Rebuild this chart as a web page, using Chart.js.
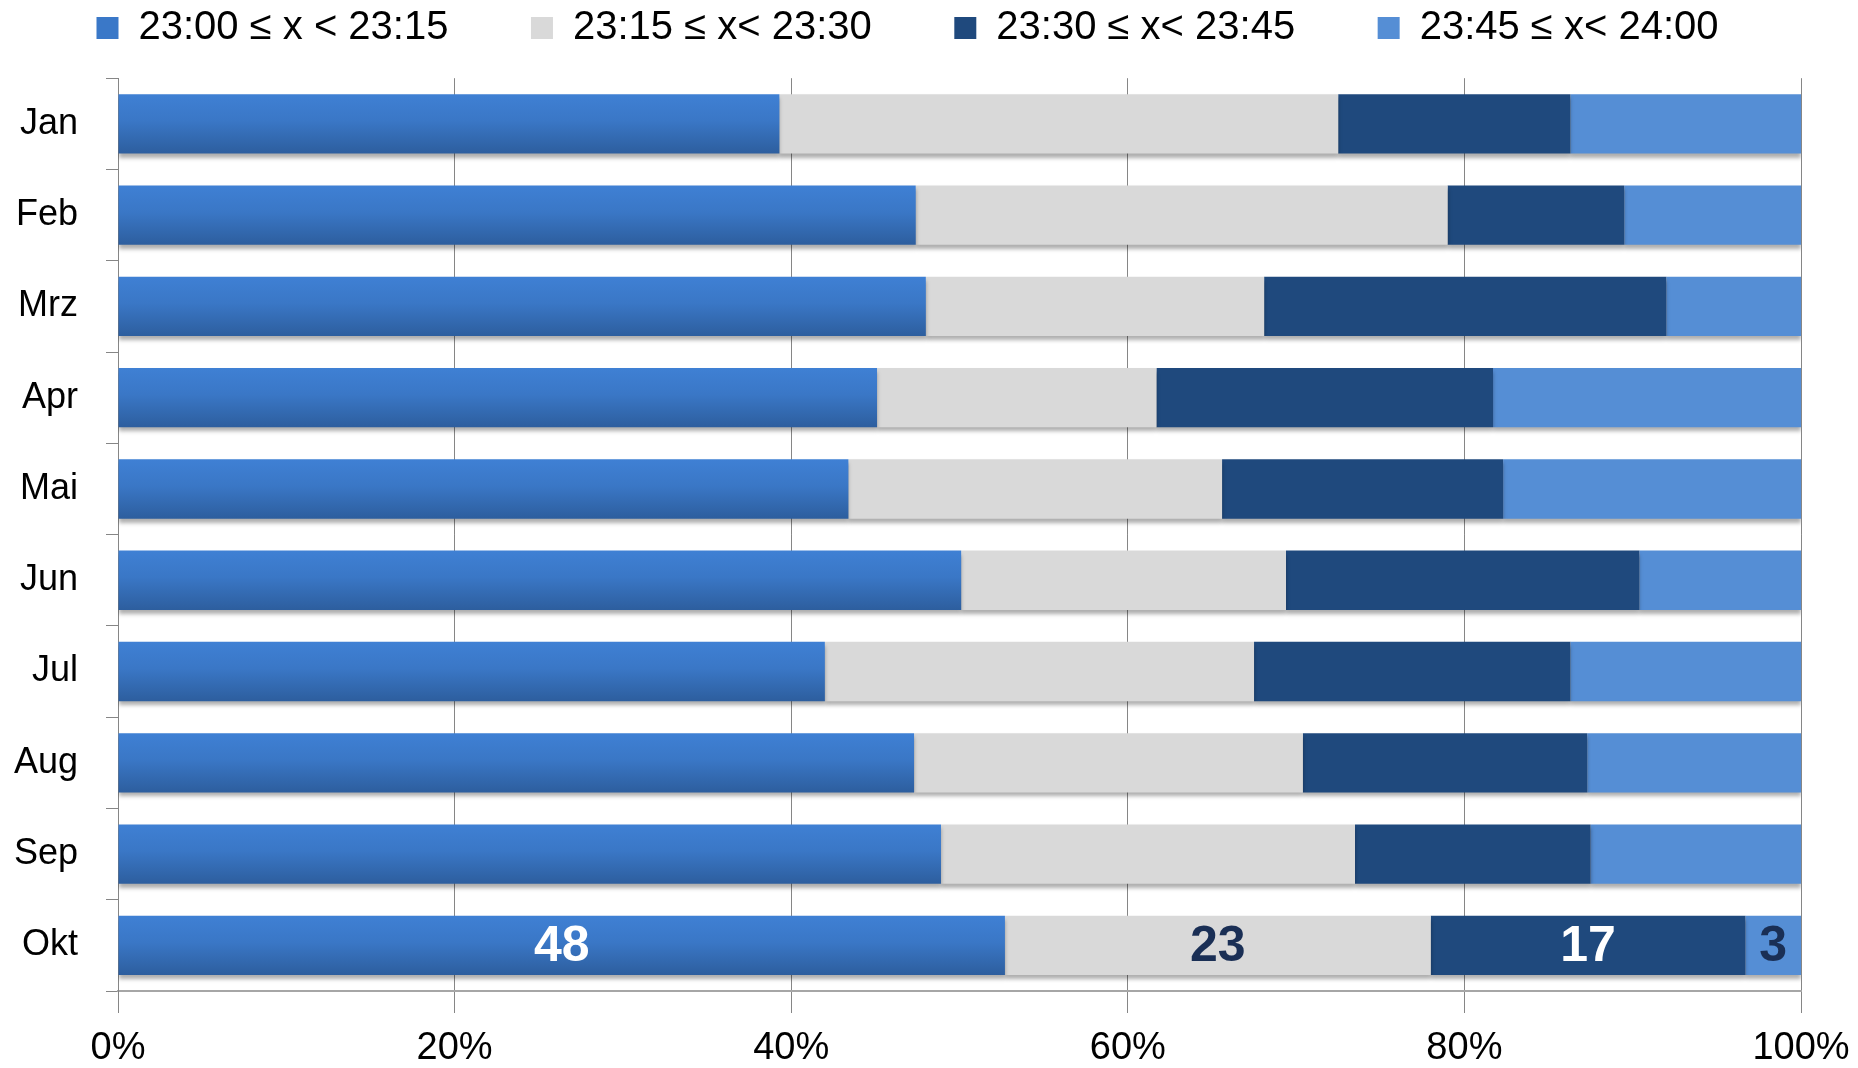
<!DOCTYPE html>
<html><head><meta charset="utf-8">
<script src="https://cdn.jsdelivr.net/npm/chart.js@4"></script>
<style>html,body{margin:0;padding:0;background:#fff;overflow:hidden}canvas{display:block}</style>
</head><body>
<canvas id="c" width="1858" height="1068" style="width:1858px;height:1068px"></canvas>
<script>
const categories = ['Jan','Feb','Mrz','Apr','Mai','Jun','Jul','Aug','Sep','Okt'];
const seriesNames = ['23:00 \u2264 x < 23:15','23:15 \u2264 x< 23:30','23:30 \u2264 x< 23:45','23:45 \u2264 x< 24:00'];
const s1 = [39.3,47.4,48.0,45.1,43.4,50.1,42.0,47.3,48.9,52.7];
const s2 = [33.2,31.6,20.1,16.6,22.2,19.3,25.5,23.1,24.6,25.3];
const s3 = [13.8,10.5,23.9,20.0,16.7,21.0,18.8,16.9,14.0,18.7];
const s4 = [13.7,10.5,8.0,18.3,17.7,9.6,13.7,12.7,12.5,3.3];
const oktCounts = [48,23,17,3];
const xTicks = [0,20,40,60,80,100];

const FONT = '"Liberation Sans", Arial, sans-serif';
const BAR_FRAC = 0.65;

function blueGrad(ctx){
  const chart = ctx.chart;
  const y = chart.scales && chart.scales.y;
  if(!chart.chartArea || !y || ctx.type !== 'data') return '#3a78c8';
  const c = y.getPixelForValue(ctx.dataIndex);
  const h = (y.height / categories.length) * BAR_FRAC;
  const g = chart.ctx.createLinearGradient(0, c - h/2, 0, c + h/2);
  g.addColorStop(0, '#3f80d4');
  g.addColorStop(0.45, '#3a77c6');
  g.addColorStop(1, '#2d5e9e');
  return g;
}

const shadowPlugin = {
  id: 'barShadow',
  beforeDatasetDraw(chart){
    const c = chart.ctx; c.save();
    c.shadowColor = 'rgba(0,0,0,0.32)'; c.shadowBlur = 4; c.shadowOffsetY = 4;
  },
  afterDatasetDraw(chart){ chart.ctx.restore(); }
};

const labelColors = ['#ffffff','#1a2f55','#ffffff','#1a2f55'];
const oktLabelPlugin = {
  id: 'oktLabels',
  afterDatasetsDraw(chart){
    const c = chart.ctx; const i = categories.length - 1;
    c.save();
    c.font = 'bold 50px ' + FONT;
    c.textAlign = 'center'; c.textBaseline = 'middle';
    chart.data.datasets.forEach((ds, d) => {
      const el = chart.getDatasetMeta(d).data[i];
      if(!el) return;
      c.fillStyle = labelColors[d];
      c.fillText(String(oktCounts[d]), (el.x + el.base) / 2, el.y + 2);
    });
    c.restore();
  }
};

new Chart(document.getElementById('c'), {
  type: 'bar',
  data: {
    labels: categories,
    datasets: [
      {label: seriesNames[0], data: s1, backgroundColor: blueGrad},
      {label: seriesNames[1], data: s2, backgroundColor: '#d9d9d9'},
      {label: seriesNames[2], data: s3, backgroundColor: '#1f497d'},
      {label: seriesNames[3], data: s4, backgroundColor: '#558ed5'}
    ]
  },
  options: {
    indexAxis: 'y',
    responsive: false,
    animation: false,
    devicePixelRatio: 1,
    datasets: {bar: {categoryPercentage: 1, barPercentage: BAR_FRAC, borderWidth: 0}},
    layout: {padding: {top: -74.5, right: 57, left: 0, bottom: 0}},
    plugins: {
      legend: {
        position: 'top',
        align: 'end',
        labels: {
          font: {family: FONT, size: 40},
          color: '#000',
          boxWidth: 22, boxHeight: 22,
          padding: 82.5,
          generateLabels(chart){
            const cols = ['#3a78c8','#d9d9d9','#1f497d','#558ed5'];
            return chart.data.datasets.map((ds, i) => ({
              text: ds.label, fillStyle: cols[i], strokeStyle: cols[i], lineWidth: 0,
              datasetIndex: i, hidden: false, fontColor: '#000'
            }));
          }
        }
      },
      subtitle: {display: true, text: ' ', weight: 500, font: {size: 1}, padding: {top: 0, bottom: 19}},
      tooltip: {enabled: false}
    },
    scales: {
      x: {
        stacked: true, min: 0, max: 100,
        afterBuildTicks(s){ s.ticks = xTicks.map(v => ({value: v})); },
        afterFit(s){ s.height = 77; s.paddingRight = 0; s.paddingLeft = 0; },
        ticks: {callback: v => v + '%', font: {family: FONT, size: 38}, color: '#000', padding: 13, maxRotation: 0},
        grid: {color: '#868686', lineWidth: 1, tickLength: 22, drawTicks: true},
        border: {display: true, color: '#a6a6a6', width: 2}
      },
      y: {
        stacked: true,
        afterFit(s){ s.width = 118; },
        ticks: {font: {family: FONT, size: 36}, color: '#000', padding: 28},
        grid: {drawOnChartArea: false, drawTicks: true, tickLength: 12, color: '#868686', offset: true},
        border: {display: true, color: '#868686', width: 1}
      }
    }
  },
  plugins: [shadowPlugin, oktLabelPlugin]
});
</script>
</body></html>
